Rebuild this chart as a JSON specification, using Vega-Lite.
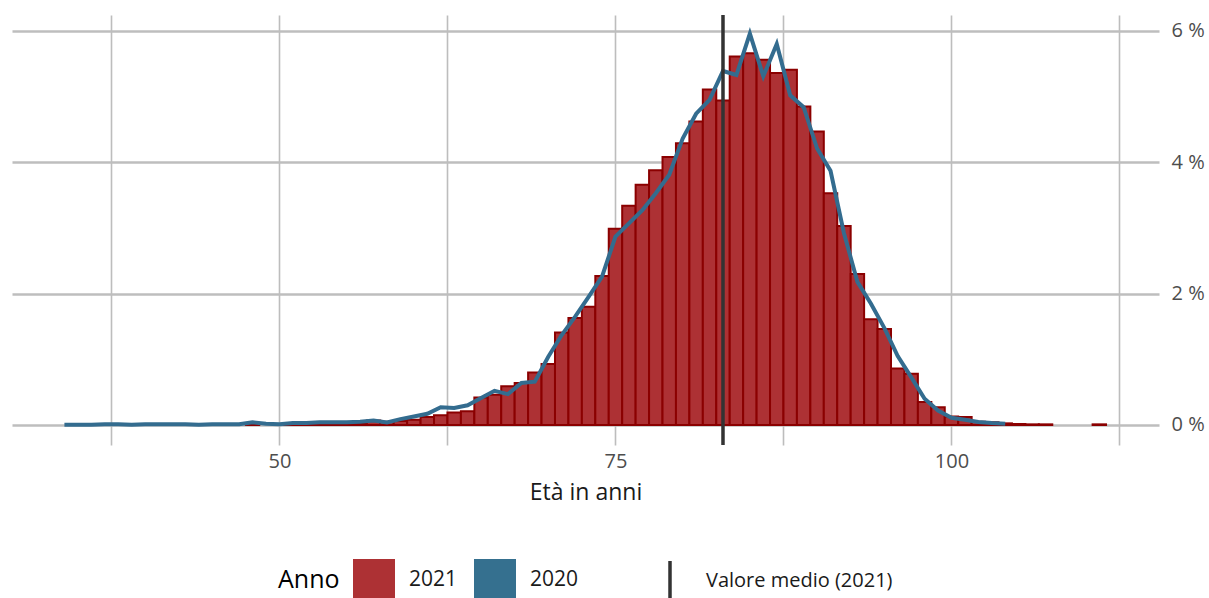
{
  "$schema": "https://vega.github.io/schema/vega-lite/v6.json",
  "width": 1147,
  "height": 430,
  "autosize": "none",
  "padding": {"left": 12, "top": 15, "right": 50, "bottom": 153},
  "background": "white",
  "config": {
    "view": {"stroke": null},
    "font": "Open Sans",
    "axis": {"labelFont": "Open Sans", "titleFont": "Open Sans"},
    "legend": {"labelFont": "Open Sans", "titleFont": "Open Sans"}
  },
  "datasets": {
    "d2021": [
      {"anno": "2021", "eta": 36, "pct": 0.003},
      {"anno": "2021", "eta": 40, "pct": 0.003},
      {"anno": "2021", "eta": 45, "pct": 0.003},
      {"anno": "2021", "eta": 46, "pct": 0.003},
      {"anno": "2021", "eta": 48, "pct": 0.005},
      {"anno": "2021", "eta": 50, "pct": 0.01},
      {"anno": "2021", "eta": 51, "pct": 0.01},
      {"anno": "2021", "eta": 52, "pct": 0.015},
      {"anno": "2021", "eta": 53, "pct": 0.02},
      {"anno": "2021", "eta": 54, "pct": 0.02},
      {"anno": "2021", "eta": 55, "pct": 0.03},
      {"anno": "2021", "eta": 56, "pct": 0.03},
      {"anno": "2021", "eta": 57, "pct": 0.07},
      {"anno": "2021", "eta": 58, "pct": 0.05},
      {"anno": "2021", "eta": 59, "pct": 0.06},
      {"anno": "2021", "eta": 60, "pct": 0.08},
      {"anno": "2021", "eta": 61, "pct": 0.12},
      {"anno": "2021", "eta": 62, "pct": 0.15},
      {"anno": "2021", "eta": 63, "pct": 0.19},
      {"anno": "2021", "eta": 64, "pct": 0.21},
      {"anno": "2021", "eta": 65, "pct": 0.42},
      {"anno": "2021", "eta": 66, "pct": 0.46},
      {"anno": "2021", "eta": 67, "pct": 0.59},
      {"anno": "2021", "eta": 68, "pct": 0.64},
      {"anno": "2021", "eta": 69, "pct": 0.80},
      {"anno": "2021", "eta": 70, "pct": 0.93},
      {"anno": "2021", "eta": 71, "pct": 1.41},
      {"anno": "2021", "eta": 72, "pct": 1.63},
      {"anno": "2021", "eta": 73, "pct": 1.80},
      {"anno": "2021", "eta": 74, "pct": 2.27},
      {"anno": "2021", "eta": 75, "pct": 2.99},
      {"anno": "2021", "eta": 76, "pct": 3.34},
      {"anno": "2021", "eta": 77, "pct": 3.66},
      {"anno": "2021", "eta": 78, "pct": 3.88},
      {"anno": "2021", "eta": 79, "pct": 4.08},
      {"anno": "2021", "eta": 80, "pct": 4.29},
      {"anno": "2021", "eta": 81, "pct": 4.62},
      {"anno": "2021", "eta": 82, "pct": 5.11},
      {"anno": "2021", "eta": 83, "pct": 4.94},
      {"anno": "2021", "eta": 84, "pct": 5.61},
      {"anno": "2021", "eta": 85, "pct": 5.66},
      {"anno": "2021", "eta": 86, "pct": 5.56},
      {"anno": "2021", "eta": 87, "pct": 5.36},
      {"anno": "2021", "eta": 88, "pct": 5.41},
      {"anno": "2021", "eta": 89, "pct": 4.85},
      {"anno": "2021", "eta": 90, "pct": 4.47},
      {"anno": "2021", "eta": 91, "pct": 3.53},
      {"anno": "2021", "eta": 92, "pct": 3.03},
      {"anno": "2021", "eta": 93, "pct": 2.30},
      {"anno": "2021", "eta": 94, "pct": 1.61},
      {"anno": "2021", "eta": 95, "pct": 1.46},
      {"anno": "2021", "eta": 96, "pct": 0.86},
      {"anno": "2021", "eta": 97, "pct": 0.78},
      {"anno": "2021", "eta": 98, "pct": 0.35},
      {"anno": "2021", "eta": 99, "pct": 0.27},
      {"anno": "2021", "eta": 100, "pct": 0.13},
      {"anno": "2021", "eta": 101, "pct": 0.12},
      {"anno": "2021", "eta": 102, "pct": 0.05},
      {"anno": "2021", "eta": 103, "pct": 0.04},
      {"anno": "2021", "eta": 104, "pct": 0.025},
      {"anno": "2021", "eta": 105, "pct": 0.015},
      {"anno": "2021", "eta": 106, "pct": 0.01},
      {"anno": "2021", "eta": 107, "pct": 0.01},
      {"anno": "2021", "eta": 111, "pct": 0.01}
    ],
    "d2020": [
      {"anno": "2020", "eta": 34, "pct": 0.005},
      {"anno": "2020", "eta": 35, "pct": 0.005},
      {"anno": "2020", "eta": 36, "pct": 0.005},
      {"anno": "2020", "eta": 37, "pct": 0.01},
      {"anno": "2020", "eta": 38, "pct": 0.01},
      {"anno": "2020", "eta": 39, "pct": 0.005},
      {"anno": "2020", "eta": 40, "pct": 0.01},
      {"anno": "2020", "eta": 41, "pct": 0.01},
      {"anno": "2020", "eta": 42, "pct": 0.01},
      {"anno": "2020", "eta": 43, "pct": 0.01},
      {"anno": "2020", "eta": 44, "pct": 0.005},
      {"anno": "2020", "eta": 45, "pct": 0.01},
      {"anno": "2020", "eta": 46, "pct": 0.01},
      {"anno": "2020", "eta": 47, "pct": 0.01},
      {"anno": "2020", "eta": 48, "pct": 0.04},
      {"anno": "2020", "eta": 49, "pct": 0.02},
      {"anno": "2020", "eta": 50, "pct": 0.01},
      {"anno": "2020", "eta": 51, "pct": 0.03},
      {"anno": "2020", "eta": 52, "pct": 0.03},
      {"anno": "2020", "eta": 53, "pct": 0.04},
      {"anno": "2020", "eta": 54, "pct": 0.04},
      {"anno": "2020", "eta": 55, "pct": 0.04},
      {"anno": "2020", "eta": 56, "pct": 0.05},
      {"anno": "2020", "eta": 57, "pct": 0.07},
      {"anno": "2020", "eta": 58, "pct": 0.04},
      {"anno": "2020", "eta": 59, "pct": 0.09},
      {"anno": "2020", "eta": 60, "pct": 0.13},
      {"anno": "2020", "eta": 61, "pct": 0.17},
      {"anno": "2020", "eta": 62, "pct": 0.27},
      {"anno": "2020", "eta": 63, "pct": 0.26},
      {"anno": "2020", "eta": 64, "pct": 0.30},
      {"anno": "2020", "eta": 65, "pct": 0.41},
      {"anno": "2020", "eta": 66, "pct": 0.52},
      {"anno": "2020", "eta": 67, "pct": 0.47},
      {"anno": "2020", "eta": 68, "pct": 0.64},
      {"anno": "2020", "eta": 69, "pct": 0.66},
      {"anno": "2020", "eta": 70, "pct": 1.04},
      {"anno": "2020", "eta": 71, "pct": 1.37},
      {"anno": "2020", "eta": 72, "pct": 1.65},
      {"anno": "2020", "eta": 73, "pct": 1.95},
      {"anno": "2020", "eta": 74, "pct": 2.26},
      {"anno": "2020", "eta": 75, "pct": 2.87},
      {"anno": "2020", "eta": 76, "pct": 3.07},
      {"anno": "2020", "eta": 77, "pct": 3.27},
      {"anno": "2020", "eta": 78, "pct": 3.53},
      {"anno": "2020", "eta": 79, "pct": 3.81},
      {"anno": "2020", "eta": 80, "pct": 4.36},
      {"anno": "2020", "eta": 81, "pct": 4.74},
      {"anno": "2020", "eta": 82, "pct": 4.95},
      {"anno": "2020", "eta": 83, "pct": 5.39},
      {"anno": "2020", "eta": 84, "pct": 5.33},
      {"anno": "2020", "eta": 85, "pct": 5.96},
      {"anno": "2020", "eta": 86, "pct": 5.31},
      {"anno": "2020", "eta": 87, "pct": 5.80},
      {"anno": "2020", "eta": 88, "pct": 5.02},
      {"anno": "2020", "eta": 89, "pct": 4.84},
      {"anno": "2020", "eta": 90, "pct": 4.21},
      {"anno": "2020", "eta": 91, "pct": 3.87},
      {"anno": "2020", "eta": 92, "pct": 2.92},
      {"anno": "2020", "eta": 93, "pct": 2.18},
      {"anno": "2020", "eta": 94, "pct": 1.85},
      {"anno": "2020", "eta": 95, "pct": 1.48},
      {"anno": "2020", "eta": 96, "pct": 1.05},
      {"anno": "2020", "eta": 97, "pct": 0.73},
      {"anno": "2020", "eta": 98, "pct": 0.40},
      {"anno": "2020", "eta": 99, "pct": 0.22},
      {"anno": "2020", "eta": 100, "pct": 0.11},
      {"anno": "2020", "eta": 101, "pct": 0.08},
      {"anno": "2020", "eta": 102, "pct": 0.045},
      {"anno": "2020", "eta": 103, "pct": 0.03},
      {"anno": "2020", "eta": 104, "pct": 0.02}
    ],
    "media": [
      {"label": "Valore medio (2021)", "eta": 83.0}
    ]
  },
  "layer": [
    {
      "data": {"name": "d2021"},
      "mark": {"type": "bar", "width": 13.44, "stroke": "#8B0000", "strokeWidth": 2, "fillOpacity": 1},
      "encoding": {
        "x": {
          "field": "eta", "type": "quantitative",
          "scale": {"domain": [30.1, 115.44], "nice": false, "zero": false, "padding": 0},
          "axis": {
            "title": "Età in anni",
            "values": [37.5, 50, 62.5, 75, 87.5, 100, 112.5],
            "labelExpr": "datum.value % 25 == 0 ? datum.label : ''",
            "domain": false, "ticks": false,
            "grid": true, "gridColor": "#BDBDBD", "gridWidth": 1.6,
            "labelFontSize": 20, "labelColor": "#4D4D4D", "labelPadding": 6,
            "titleFontSize": 23, "titleFontWeight": "normal", "titleColor": "#1A1A1A", "titlePadding": 10
          }
        },
        "y": {
          "field": "pct", "type": "quantitative",
          "scale": {"domain": [-0.3046, 6.243], "nice": false, "zero": false},
          "axis": {
            "orient": "right", "title": null,
            "values": [0, 2, 4, 6],
            "labelExpr": "datum.value + ' %'",
            "domain": false, "ticks": false,
            "grid": true, "gridColor": "#BEBEBE", "gridWidth": 2.5,
            "labelFontSize": 20, "labelColor": "#4D4D4D", "labelPadding": 12
          }
        },
        "fill": {
          "field": "anno", "type": "nominal",
          "scale": {"domain": ["2021", "2020"], "range": ["#AD3134", "#35708F"]},
          "legend": {
            "title": "Anno", "orient": "none", "direction": "horizontal",
            "legendX": 266, "legendY": 544,
            "titleOrient": "left", "titleFontSize": 25, "titleFontWeight": "normal", "titleColor": "#000000",
            "titlePadding": 13, "titleBaseline": "middle",
            "symbolType": "square", "symbolSize": 1764, "symbolStrokeWidth": 0, "symbolOpacity": 1,
            "labelFontSize": 21, "labelColor": "#1A1A1A", "labelOffset": 14, "columnPadding": 16,
            "padding": 0
          }
        }
      }
    },
    {
      "data": {"name": "d2020"},
      "mark": {"type": "line", "strokeWidth": 4},
      "encoding": {
        "x": {"field": "eta", "type": "quantitative"},
        "y": {"field": "pct", "type": "quantitative"},
        "stroke": {
          "field": "anno", "type": "nominal",
          "scale": {"domain": ["2020"], "range": ["#336C8F"]},
          "legend": null
        }
      }
    },
    {
      "data": {"name": "media"},
      "mark": {"type": "rule", "stroke": "#333333", "strokeWidth": 3.5},
      "encoding": {
        "x": {"field": "eta", "type": "quantitative"},
        "strokeDash": {
          "field": "label", "type": "nominal",
          "scale": {"range": [[1, 0]]},
          "legend": {
            "title": null, "orient": "none",
            "legendX": 636, "legendY": 544,
            "symbolType": "M0,-1L0,1", "symbolSize": 1600,
            "symbolStrokeColor": "#333333", "symbolStrokeWidth": 3.5,
            "labelFontSize": 20, "labelColor": "#1A1A1A", "labelOffset": 14, "labelLimit": 400,
            "padding": 0
          }
        }
      }
    }
  ]
}
